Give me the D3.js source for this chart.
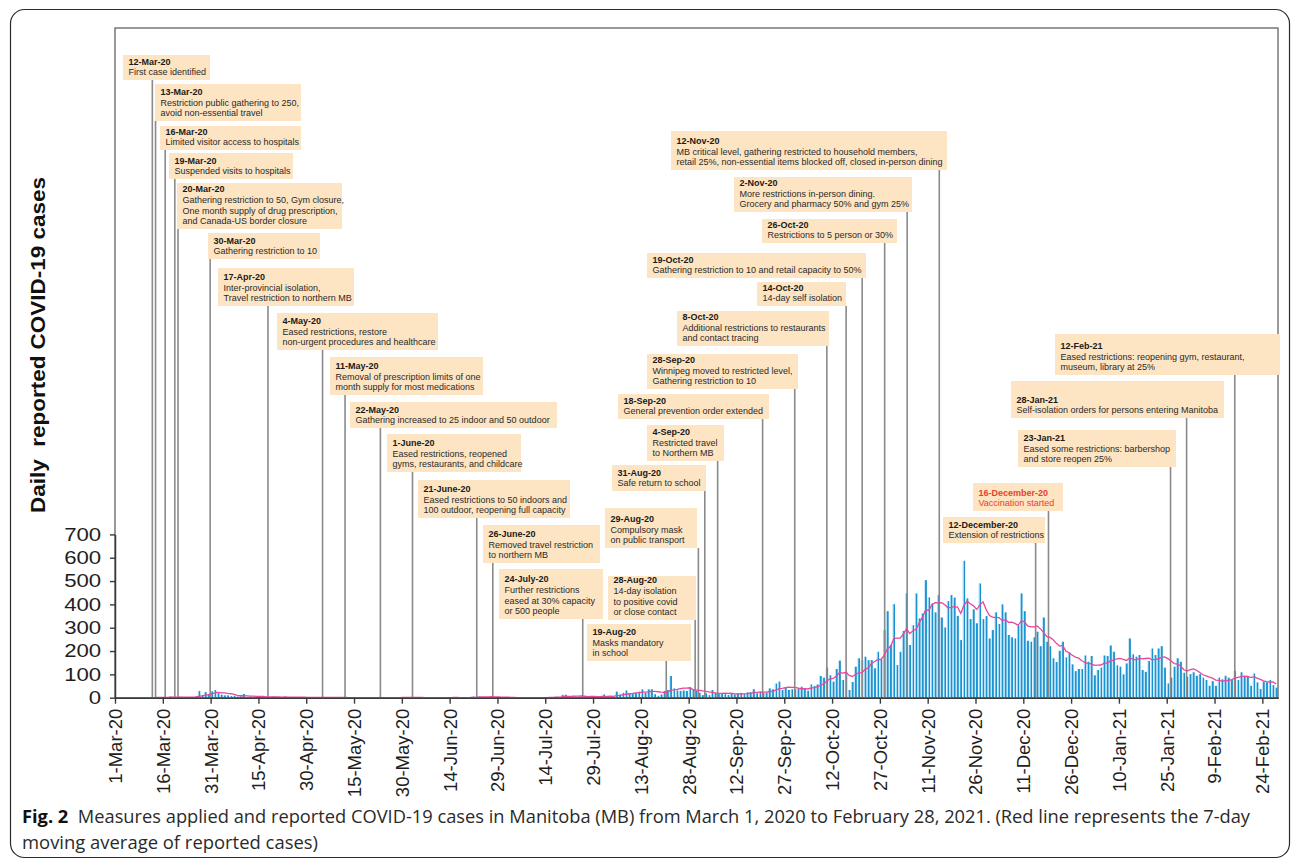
<!DOCTYPE html>
<html><head><meta charset="utf-8">
<script src="https://cdn.jsdelivr.net/npm/d3@7"></script>
<style>
html,body{margin:0;padding:0;background:#fff;}
svg{display:block;}
</style></head>
<body>
<svg id="chart" width="1296" height="862"></svg>
<script>
// ---------- DATA ----------
const casesMar20 = [0,0,0,0,0,0,0,0,0,0,0,3,1,2,0,3,1,5,3,2,4,2,1,1,3,6,29,11,24,16,27];
const casesApr20 = [33,19,13,10,10,7,8,5,6,16,3,5,4,2,6,3,4,2,5,1,3,2,4,1,2,3,1,2,0,1];
const casesMay20 = [2,1,0,3,1,2,0,1,2,1,0,0,1,0,0,1,2,0,0,0,2,0,0,1,0,1,0,3,0,2,1];
const casesJun20 = [1,2,0,0,1,0,0,0,0,2,1,2,0,0,1,0,0,0,3,2,5,4,6,3,2,4,5,3,2,1];
const casesJul20 = [0,1,0,0,0,1,0,0,0,0,1,0,2,1,3,2,4,3,12,13,5,4,6,5,8,3,4,6,5,4,6];
const casesAug20 = [14,3,5,4,26,14,21,31,17,17,20,26,36,21,36,36,15,8,14,29,33,93,40,31,29,31,29,45,36,29,21];
const casesSep20 = [11,19,11,33,21,19,16,16,12,16,14,19,21,17,23,23,36,19,26,21,21,40,36,61,69,33,43,33,36,36];
const casesOct20 = [40,47,40,30,57,50,57,93,86,129,96,69,123,159,76,111,33,67,133,169,161,176,161,161,126,197,164,290,371,226,401];
const casesNov20 = [140,197,286,447,226,311,447,340,361,504,430,404,366,440,344,301,414,440,429,351,247,587,426,337,379,319,490,337,350,254];
const casesDec20 = [290,366,316,400,366,269,259,254,309,447,371,244,240,259,283,221,344,240,221,169,153,201,240,173,193,143,114,123,123,181,154];
const casesJan21 = [179,96,119,129,181,179,224,197,139,133,100,147,254,186,176,183,119,111,157,211,183,211,221,129,61,86,133,169,154,107,90];
const casesFeb21 = [101,109,94,101,86,76,51,71,51,86,79,94,86,76,114,76,109,90,90,51,104,66,37,69,66,76,54,43];

const xTickLabels = ["1-Mar-20","16-Mar-20","31-Mar-20","15-Apr-20","30-Apr-20","15-May-20","30-May-20","14-Jun-20","29-Jun-20","14-Jul-20","29-Jul-20","13-Aug-20","28-Aug-20","12-Sep-20","27-Sep-20","12-Oct-20","27-Oct-20","11-Nov-20","26-Nov-20","11-Dec-20","26-Dec-20","10-Jan-21","25-Jan-21","9-Feb-21","24-Feb-21"];
const yTickValues = [0,100,200,300,400,500,600,700];

const measureDates = ["2020-03-12","2020-03-13","2020-03-16","2020-03-19","2020-03-20","2020-03-30","2020-04-17","2020-05-04","2020-05-11","2020-05-22","2020-06-01","2020-06-21","2020-06-26","2020-07-24","2020-08-19","2020-08-28","2020-08-29","2020-08-31","2020-09-04","2020-09-18","2020-09-28","2020-10-08","2020-10-14","2020-10-19","2020-10-26","2020-11-02","2020-11-12","2020-12-12","2020-12-16","2021-01-23","2021-01-28","2021-02-12"];
const measureTitles = ["12-Mar-20","13-Mar-20","16-Mar-20","19-Mar-20","20-Mar-20","30-Mar-20","17-Apr-20","4-May-20","11-May-20","22-May-20","1-June-20","21-June-20","26-June-20","24-July-20","19-Aug-20","28-Aug-20","29-Aug-20","31-Aug-20","4-Sep-20","18-Sep-20","28-Sep-20","8-Oct-20","14-Oct-20","19-Oct-20","26-Oct-20","2-Nov-20","12-Nov-20","12-December-20","16-December-20","23-Jan-21","28-Jan-21","12-Feb-21"];
const measureTexts = [
 ["First case identified"],
 ["Restriction public gathering to 250,","avoid non-essential travel"],
 ["Limited visitor access to hospitals"],
 ["Suspended visits to hospitals"],
 ["Gathering restriction to 50, Gym closure,","One month supply of drug prescription,","and Canada-US border closure"],
 ["Gathering restriction to 10"],
 ["Inter-provincial isolation,","Travel restriction to northern MB"],
 ["Eased restrictions, restore","non-urgent procedures and healthcare"],
 ["Removal of prescription limits of one","month supply for most medications"],
 ["Gathering increased to 25 indoor and 50 outdoor"],
 ["Eased restrictions, reopened","gyms, restaurants, and childcare"],
 ["Eased restrictions to 50 indoors and","100 outdoor, reopening full capacity"],
 ["Removed travel restriction","to northern MB"],
 ["Further restrictions","eased at 30% capacity","or 500 people"],
 ["Masks mandatory","in school"],
 ["14-day isolation","to positive covid","or close contact"],
 ["Compulsory mask","on public transport"],
 ["Safe return to school"],
 ["Restricted travel","to Northern MB"],
 ["General prevention order extended"],
 ["Winnipeg moved to restricted level,","Gathering restriction to 10"],
 ["Additional restrictions to restaurants","and contact tracing"],
 ["14-day self isolation"],
 ["Gathering restriction to 10 and retail capacity to 50%"],
 ["Restrictions to 5 person or 30%"],
 ["More restrictions in-person dining.","Grocery and pharmacy 50% and gym 25%"],
 ["MB critical level, gathering restricted to household members,","retail 25%, non-essential items blocked off, closed in-person dining"],
 ["Extension of restrictions"],
 ["Vaccination started"],
 ["Eased some restrictions: barbershop","and store reopen 25%"],
 ["Self-isolation orders for persons entering Manitoba"],
 ["Eased restrictions: reopening gym, restaurant,","museum, library at 25%"]
];
const highlightedMeasure = "2020-12-16";

// ---------- LAYOUT (box rectangles: x0,y0,x1,y1) ----------
const boxLayout = [
 [123,55,210,80],[155,84,301,121],[160,126,301,150],[169,153,293,179],[177,183,342,229],
 [208,233,320,259],[218,268,354,306],[277,313,438,350],[330,357,483,395],[350,402,557,428],
 [387,434,521,472],[418,480,570,518],[483,525,600,563],[499,569,603,619],[587,624,691,661],
 [608,576,696,620],[605,508,697,548],[612,465,706,491],[647,425,724,461],[618,394,769,419],
 [647,354,798,389],[677,311,829,346],[757,282,846,306],[647,253,866,278],[762,219,897,243],
 [734,177,912,212],[671,131,947,170],[943,517,1045,543],[973,483,1063,511],[1018,430,1176,467],
 [1011,381,1224,418],[1055,334,1280,375]
];

// ---------- BUILD ----------
const cases = [].concat(casesMar20,casesApr20,casesMay20,casesJun20,casesJul20,casesAug20,
  casesSep20,casesOct20,casesNov20,casesDec20,casesJan21,casesFeb21);
const startDate = new Date(2020,2,1);
const movingAvg = cases.map((v,i)=> d3.mean(cases.slice(Math.max(0,i-6), i+1)));

const svg = d3.select("#chart");
const FONT = "'Liberation Sans', Arial, Helvetica, sans-serif";

const x = d3.scaleLinear().domain([0,365]).range([115, 115+365*3.187]);
const xMeasure = d3.scaleLinear().domain([0,365]).range([117, 117+365*3.212]);
const y = d3.scaleLinear().domain([0,700]).range([697.7, 534.4]);
const barW = 2.4;

// defs
const defs = svg.append("defs");
const g = defs.append("linearGradient").attr("id","barGrad").attr("x1","0").attr("x2","1").attr("y1","0").attr("y2","0");
g.append("stop").attr("offset","0").attr("stop-color","#9ad6f4");
g.append("stop").attr("offset","0.33").attr("stop-color","#9ad6f4");
g.append("stop").attr("offset","0.42").attr("stop-color","#1d98d5");
g.append("stop").attr("offset","1").attr("stop-color","#1789c6");

// outer rounded frame
svg.append("rect").attr("x",10.5).attr("y",9.5).attr("width",1279).attr("height",848)
  .attr("rx",14).attr("fill","none").attr("stroke","#2b2b2b").attr("stroke-width",1.2);

// plot frame
svg.append("rect").attr("x",115).attr("y",28).attr("width",1163).attr("height",669.7)
  .attr("fill","none").attr("stroke","#6e6e6e").attr("stroke-width",1.4);

// bars
svg.append("g").selectAll("rect").data(cases).join("rect")
  .attr("x",(d,i)=>x(i)).attr("width",barW)
  .attr("y",d=>y(d)).attr("height",d=>y(0)-y(d))
  .attr("fill","url(#barGrad)");

// measure lines
const measureDay = measureDates.map(s=>{const p=s.split("-");return d3.timeDay.count(startDate,new Date(+p[0],+p[1]-1,+p[2]));});
svg.append("g").selectAll("line").data(measureDates).join("line")
  .attr("x1",(d,i)=>xMeasure(measureDay[i])).attr("x2",(d,i)=>xMeasure(measureDay[i]))
  .attr("y1",(d,i)=>boxLayout[i][3]).attr("y2",y(0))
  .attr("stroke","#8a8a8a").attr("stroke-width",1.6);

// moving average
svg.append("path").datum(movingAvg)
  .attr("d", d3.line().x((d,i)=>x(i)+barW/2).y(d=>y(d)))
  .attr("fill","none").attr("stroke","#e8479b").attr("stroke-width",1.3);

// x axis
const xAxis = d3.axisBottom(x).tickValues(d3.range(0,361,15))
  .tickFormat((d,i)=>xTickLabels[i]).tickSize(6).tickSizeOuter(0);
const gx = svg.append("g").attr("transform",`translate(0,${y(0)})`).call(xAxis);
gx.select(".domain").attr("stroke","#3a3a3a").attr("stroke-width",1.5);
gx.selectAll(".tick line").attr("stroke","#3a3a3a").attr("stroke-width",1.4);
gx.selectAll(".tick text")
  .attr("font-family",FONT).attr("font-size",18.5).attr("fill","#1e1e1e")
  .attr("text-anchor","end").attr("y",0).attr("x",0).attr("dy","0.35em")
  .attr("transform","translate(0,11) rotate(-90)");

// y axis
const yAxis = d3.axisLeft(y).tickValues(yTickValues).tickSize(5).tickSizeOuter(0).tickPadding(9);
const gy = svg.append("g").attr("transform","translate(115,0)").call(yAxis);
gy.select(".domain").attr("stroke","#3a3a3a").attr("stroke-width",1.5);
gy.selectAll(".tick line").attr("stroke","#3a3a3a").attr("stroke-width",1.4);
gy.selectAll(".tick text").attr("font-family",FONT).attr("font-size",18.5).attr("fill","#1e1e1e")
  .attr("x",-11.5).attr("transform","scale(1.2,1)");

// y title
svg.append("text").attr("transform","translate(45,345) rotate(-90)")
  .attr("text-anchor","middle").attr("font-family",FONT).attr("font-weight","bold")
  .attr("font-size",21).attr("fill","#111").style("white-space","pre")
  .attr("textLength",336).attr("lengthAdjust","spacingAndGlyphs")
  .text("Daily  reported COVID-19 cases");

// annotation boxes
const ann = svg.append("g").selectAll("g").data(measureDates).join("g");
ann.append("rect")
  .attr("x",(d,i)=>boxLayout[i][0]).attr("y",(d,i)=>boxLayout[i][1])
  .attr("width",(d,i)=>boxLayout[i][2]-boxLayout[i][0]).attr("height",(d,i)=>boxLayout[i][3]-boxLayout[i][1])
  .attr("fill","#fde4c2");
ann.each(function(d,i){
  const lines = [measureTitles[i]].concat(measureTexts[i]);
  const b = boxLayout[i];
  const red = d===highlightedMeasure;
  const lh = 10.8;
  const base0 = b[3]-4.6-(lines.length-1)*lh;
  const t = d3.select(this).append("text").attr("font-family",FONT).attr("font-size",9)
    .attr("fill", red ? "#e8412e" : "#262626");
  lines.forEach((ln,k)=>{
    t.append("tspan").attr("x",b[0]+5.5).attr("y",base0+k*lh)
      .attr("font-weight",k===0?"bold":"normal")
      .attr("fill", red ? "#e8412e" : (k===0?"#1a1a1a":"#2a2a2a"))
      .text(ln);
  });
});

// caption
const cap1 = svg.append("text").attr("x",22).attr("y",823)
  .attr("font-family","'Open Sans','Noto Sans',sans-serif").attr("font-size",18.5).attr("fill","#2a2a2a")
  .attr("textLength",1228).attr("lengthAdjust","spacingAndGlyphs").style("white-space","pre");
cap1.append("tspan").attr("font-weight","bold").attr("fill","#111").text("Fig. 2");
cap1.append("tspan").text("  Measures applied and reported COVID-19 cases in Manitoba (MB) from March 1, 2020 to February 28, 2021. (Red line represents the 7-day");
svg.append("text").attr("x",22).attr("y",849)
  .attr("font-family","'Open Sans','Noto Sans',sans-serif").attr("font-size",18.5).attr("fill","#2a2a2a")
  .attr("textLength",296).attr("lengthAdjust","spacingAndGlyphs")
  .text("moving average of reported cases)");
</script>
</body></html>
